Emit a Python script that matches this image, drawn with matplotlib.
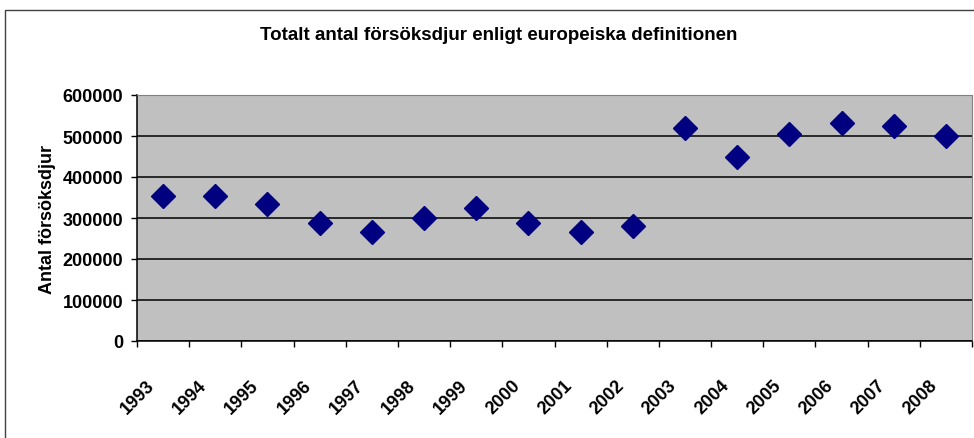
import matplotlib.pyplot as plt
import matplotlib.transforms as mtransforms
from matplotlib.patches import Rectangle
import numpy as np

plt.rcParams['font.family'] = ['Liberation Sans', 'DejaVu Sans']

years = ['1993', '1994', '1995', '1996', '1997', '1998', '1999', '2000',
         '2001', '2002', '2003', '2004', '2005', '2006', '2007', '2008']
animals = [353000, 353000, 333000, 288000, 267000, 300000, 325000, 288000,
           267000, 280000, 520000, 448000, 504000, 532000, 524000, 501000]
yticks = [0, 100000, 200000, 300000, 400000, 500000, 600000]

title = 'Totalt antal försöksdjur enligt europeiska definitionen'
ylabel = 'Antal försöksdjur'

fig = plt.figure(figsize=(9.74, 4.39), dpi=100)
ax = fig.add_axes([137 / 974, 1 - 342 / 439, (972 - 137) / 974, (342 - 96) / 439])

# outer chart frame
fig.patches.append(Rectangle((5 / 974, -0.2), 1.2, 1.2 - 11 / 439,
                             transform=fig.transFigure, fill=False,
                             edgecolor='#404040', lw=1.0))

ax.set_facecolor('#C0C0C0')
xpos = np.arange(len(years)) + 0.5
ax.plot(xpos, animals, linestyle='none', marker='D', ms=12,
        color='#000080', mec='#000080')

ax.set_xlim(0, len(years))
ax.set_ylim(yticks[0], yticks[-1])
ax.set_yticks(yticks)
ax.set_yticklabels([str(v) for v in yticks], fontsize=13, fontweight='bold')
ax.tick_params(axis='y', direction='out', length=4, width=1, pad=6)

ax.set_xticks(np.arange(len(years) + 1))
ax.set_xticklabels([])
ax.tick_params(axis='x', which='major', direction='out', length=4, width=1)
ax.set_xticks(xpos, minor=True)
ax.set_xticklabels(years, minor=True, rotation=45, ha='right', va='center',
                   rotation_mode='anchor', fontsize=13, fontweight='bold')
ax.tick_params(axis='x', which='minor', length=0, pad=30)
shift = mtransforms.ScaledTranslation(-11 / 100, 0, fig.dpi_scale_trans)
for lab in ax.get_xticklabels(minor=True):
    lab.set_transform(lab.get_transform() + shift)

ax.set_axisbelow(True)
ax.yaxis.grid(True, color='black', lw=1.1)
for s in ['top', 'right']:
    ax.spines[s].set_color('#808080')
for s in ['left', 'bottom']:
    ax.spines[s].set_color('black')
    ax.spines[s].set_linewidth(1.1)

ax.set_ylabel(ylabel, fontsize=13, fontweight='bold', labelpad=5)
fig.text(499 / 974, 1 - 36 / 439, title, ha='center', va='center',
         fontsize=13.5, fontweight='bold')

fig.savefig('out.png', dpi=100, facecolor='white')
